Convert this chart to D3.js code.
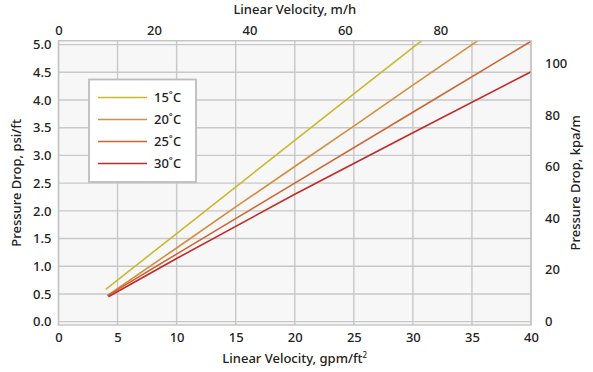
<!DOCTYPE html>
<html><head><meta charset="utf-8">
<script src="https://cdn.jsdelivr.net/npm/d3@7"></script>
<style>
body{margin:0;background:#fff;}
text{font-family:"Noto Sans","Open Sans",sans-serif;fill:#222;font-weight:500;}
</style></head>
<body><svg id="c" width="593" height="372"></svg>
<script>
// Data
const series = ["15˚C","20˚C","25˚C","30˚C"];
const colors = ["#c9b92e","#d38e3e","#cc6633","#c42a2a"];
const gpm15 = [4.0, 10, 20, 25, 30.75];
const psi15 = [0.585, 1.59, 3.27, 4.11, 5.07];
const gpm20 = [4.13, 10, 15, 20, 25, 30, 35.5];
const psi20 = [0.47, 1.33, 2.07, 2.80, 3.53, 4.27, 5.07];
const gpm25 = [4.15, 10, 20, 30, 40];
const psi25 = [0.47, 1.22, 2.50, 3.78, 5.06];
const gpm30 = [4.22, 10, 20, 30, 40];
const psi30 = [0.45, 1.14, 2.30, 3.41, 4.51];
const bottomTicks = [0,5,10,15,20,25,30,35,40];
const topTicks = [0,20,40,60,80];
const leftTicks = [0,0.5,1,1.5,2,2.5,3,3.5,4,4.5,5];
const rightTicks = [0,20,40,60,80,100];

const svg = d3.select("#c");
const L = 58.5, R = 531, T = 40.7, B = 325;
const x = d3.scaleLinear().domain([0,40]).range([L,R]);
const xTop = d3.scaleLinear().domain([0,99]).range([L,R]);
const y = d3.scaleLinear().domain([-0.06,5.07]).range([B,T]);
const yR = d3.scaleLinear().domain([0,100]).range([321,63.5]);
const FS = "13px";

svg.append("rect").attr("x",L).attr("y",T).attr("width",R-L).attr("height",B-T).attr("fill","#f7f7f7");

const g = svg.append("g");
g.selectAll(".vg").data(bottomTicks).join("line")
  .attr("x1",d=>x(d)).attr("x2",d=>x(d)).attr("y1",T).attr("y2",B)
  .attr("stroke","#c8c8c8").attr("stroke-width",1.4);
g.selectAll(".hg").data(leftTicks).join("line")
  .attr("y1",d=>y(d)).attr("y2",d=>y(d)).attr("x1",L).attr("x2",R)
  .attr("stroke","#c8c8c8").attr("stroke-width",1.4);

svg.append("clipPath").attr("id","clip").append("rect")
  .attr("x",L).attr("y",T).attr("width",R-L).attr("height",B-T);

const data = [[gpm15,psi15],[gpm20,psi20],[gpm25,psi25],[gpm30,psi30]];
const line = d3.line().x(d=>x(d[0])).y(d=>y(d[1]));
data.forEach((s,i)=>{
  const pts = s[0].map((v,j)=>[v,s[1][j]]);
  svg.append("path").attr("d",line(pts)).attr("fill","none")
    .attr("stroke",colors[i]).attr("stroke-width",1.6).attr("clip-path","url(#clip)");
});

svg.append("rect").attr("x",L).attr("y",T).attr("width",R-L).attr("height",B-T)
  .attr("fill","none").attr("stroke","#c4c4c4").attr("stroke-width",1.4);

// Axes
function styleAxis(sel){
  sel.select(".domain").remove();
  sel.selectAll(".tick line").remove();
  sel.selectAll("text").style("font-size",FS).attr("fill","#222");
}
svg.append("g").attr("transform",`translate(0,${B})`)
  .call(d3.axisBottom(x).tickValues(bottomTicks).tickSize(0).tickPadding(8).tickFormat(d3.format("d")))
  .call(styleAxis);
svg.append("g").attr("transform",`translate(0,${T})`)
  .call(d3.axisTop(xTop).tickValues(topTicks).tickSize(0).tickPadding(6).tickFormat(d3.format("d")))
  .call(styleAxis);
svg.append("g").attr("transform",`translate(${L},0)`)
  .call(d3.axisLeft(y).tickValues(leftTicks).tickSize(0).tickPadding(7).tickFormat(d3.format(".1f")))
  .call(styleAxis);
svg.append("g").attr("transform",`translate(${R},0)`)
  .call(d3.axisRight(yR).tickValues(rightTicks).tickSize(0).tickPadding(14).tickFormat(d3.format("d")))
  .call(styleAxis);

svg.append("text").attr("x",(L+R)/2).attr("y",363).attr("text-anchor","middle")
  .style("font-size",FS).html('Linear Velocity, gpm/ft<tspan dy="-5" font-size="8">2</tspan>');
svg.append("text").attr("x",(L+R)/2).attr("y",14).attr("text-anchor","middle")
  .style("font-size",FS).text("Linear Velocity, m/h");
svg.append("text").attr("transform",`translate(21,${(T+B)/2}) rotate(-90)`).attr("text-anchor","middle")
  .style("font-size",FS).text("Pressure Drop, psi/ft");
svg.append("text").attr("transform",`translate(580,${(T+B)/2}) rotate(-90)`).attr("text-anchor","middle")
  .style("font-size",FS).text("Pressure Drop, kpa/m");

// Legend
const lg = svg.append("g");
lg.append("rect").attr("x",89).attr("y",79.5).attr("width",107).attr("height",102.5)
  .attr("fill","#fff").attr("stroke","#bdbdbd").attr("stroke-width",1.8);
series.forEach((s,i)=>{
  const yy = 97.5 + i*22;
  lg.append("line").attr("x1",98).attr("x2",147).attr("y1",yy).attr("y2",yy)
    .attr("stroke",colors[i]).attr("stroke-width",1.6);
  lg.append("text").attr("x",154).attr("y",yy+4.5).style("font-size",FS).text(s);
});
</script></body></html>
